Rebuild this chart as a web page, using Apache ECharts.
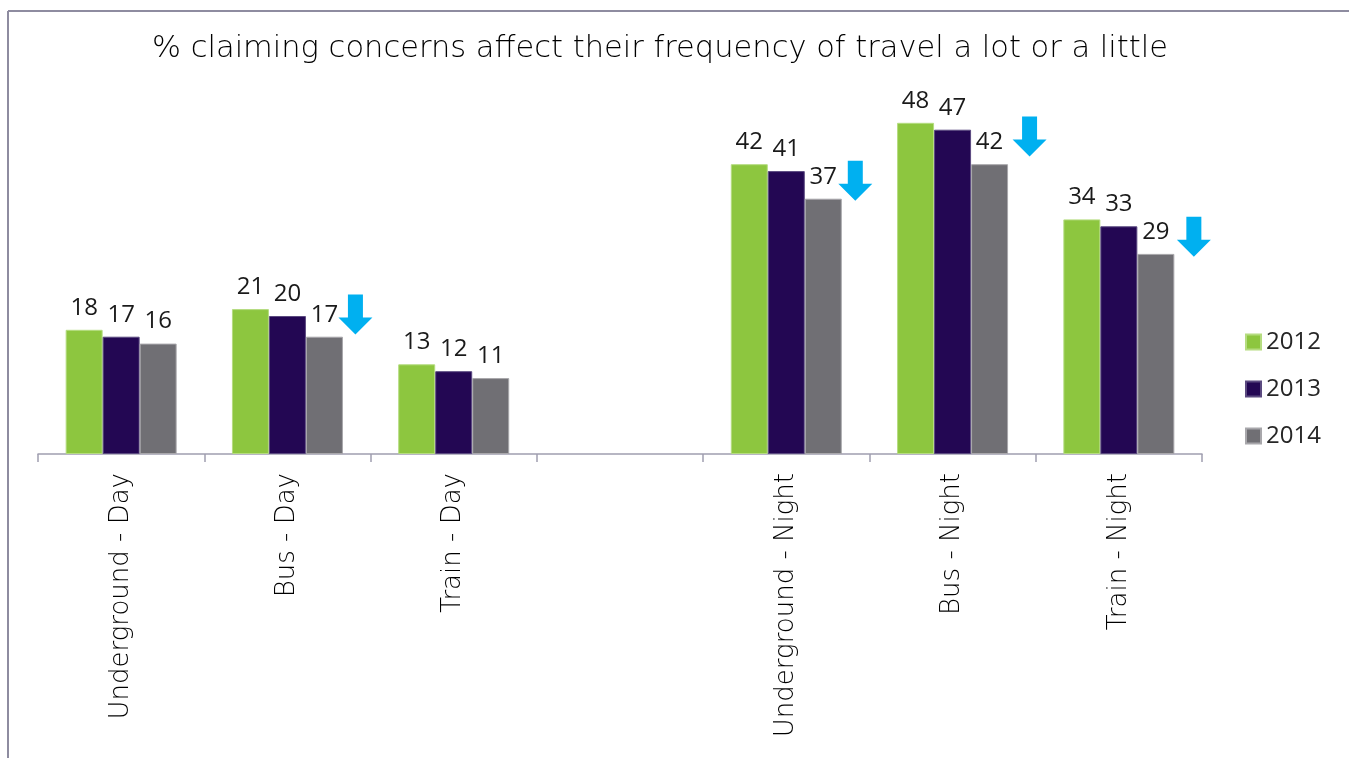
<!DOCTYPE html>
<html>
<head>
<meta charset="utf-8">
<script src="https://cdn.jsdelivr.net/npm/echarts@6/dist/echarts.min.js"></script>
<style>
html,body{margin:0;padding:0;background:#fff;}
#chart{width:1349px;height:758px;}
</style>
</head>
<body>
<div id="chart"></div>
<script>
// ---- data ----
const categories = ['Underground - Day', 'Bus - Day', 'Train - Day', '', 'Underground - Night', 'Bus - Night', 'Train - Night'];
const years = ['2012', '2013', '2014'];
const values2012 = [18, 21, 13, null, 42, 48, 34];
const values2013 = [17, 20, 12, null, 41, 47, 33];
const values2014 = [16, 17, 11, null, 37, 42, 29];
// decline arrows: category and level of arrow centre
const arrowCategories = ['Bus - Day', 'Underground - Night', 'Bus - Night', 'Train - Night'];
const arrowLevels = [20.2, 39.6, 46.0, 31.5];
const titleText = '% claiming concerns affect their frequency of travel a lot or a little';

// ---- styles ----
const colors = ['#8dc63f', '#230753', '#706f74'];
const borders = ['#b5dc80', '#5b4a80', '#a8a7ab'];
const arrowOffsets = [68, 69, 77, 75];
const arrowPath = 'path://M9.5,0 L24.5,0 L24.5,23 L34,23 L17,40 L0,23 L9.5,23 Z';
const numFont = '"Open Sans", "Noto Sans", sans-serif';
const textFont = '"DejaVu Sans", sans-serif';

const chart = echarts.init(document.getElementById('chart'));
const seriesValues = [values2012, values2013, values2014];

const barSeries = years.map((y, i) => ({
  name: y,
  type: 'bar',
  data: seriesValues[i],
  barWidth: 37,
  barGap: '0%',
  itemStyle: { color: colors[i], borderColor: borders[i], borderWidth: 1 },
  label: {
    show: true,
    position: 'top',
    distance: 10,
    color: '#1a1a1a',
    fontFamily: numFont,
    fontSize: 24
  },
  emphasis: { disabled: true }
}));

const arrowSeries = {
  type: 'scatter',
  symbol: arrowPath,
  symbolSize: [34, 40],
  z: 5,
  itemStyle: { color: '#00b0f0', opacity: 1 },
  data: arrowCategories.map((c, i) => ({
    value: [c, arrowLevels[i]],
    symbolOffset: [arrowOffsets[i], 0]
  })),
  emphasis: { disabled: true },
  silent: true
};

chart.setOption({
  animation: false,
  title: {
    text: titleText,
    left: 655,
    textAlign: 'center',
    top: 29,
    textStyle: { fontFamily: textFont, fontWeight: 200, fontSize: 30.5, color: '#000' }
  },
  legend: {
    data: years,
    orient: 'vertical',
    left: 1240,
    top: 325,
    itemWidth: 15,
    itemHeight: 15,
    itemGap: 23,
    icon: 'rect',
    textStyle: { fontFamily: numFont, fontSize: 24, color: '#262626' }
  },
  grid: { left: 38, right: 147, top: 109, bottom: 304, containLabel: false },
  xAxis: {
    type: 'category',
    data: categories,
    axisLine: { lineStyle: { color: '#a09eb0', width: 1.5 } },
    axisTick: { show: true, length: 8, lineStyle: { color: '#a09eb0', width: 1.5 } },
    axisLabel: {
      rotate: 90,
      interval: 0,
      margin: 19,
      fontFamily: textFont,
      fontWeight: 200,
      fontSize: 26,
      color: '#000'
    }
  },
  yAxis: {
    type: 'value',
    min: 0,
    max: 50,
    show: false,
    splitLine: { show: false }
  },
  graphic: [
    { type: 'line', shape: { x1: 8, y1: 11, x2: 1349, y2: 11 }, style: { stroke: '#8e8ca0', lineWidth: 2 } },
    { type: 'line', shape: { x1: 8, y1: 11, x2: 8, y2: 758 }, style: { stroke: '#8e8ca0', lineWidth: 2 } }
  ],
  series: [...barSeries, arrowSeries]
});
</script>
</body>
</html>
